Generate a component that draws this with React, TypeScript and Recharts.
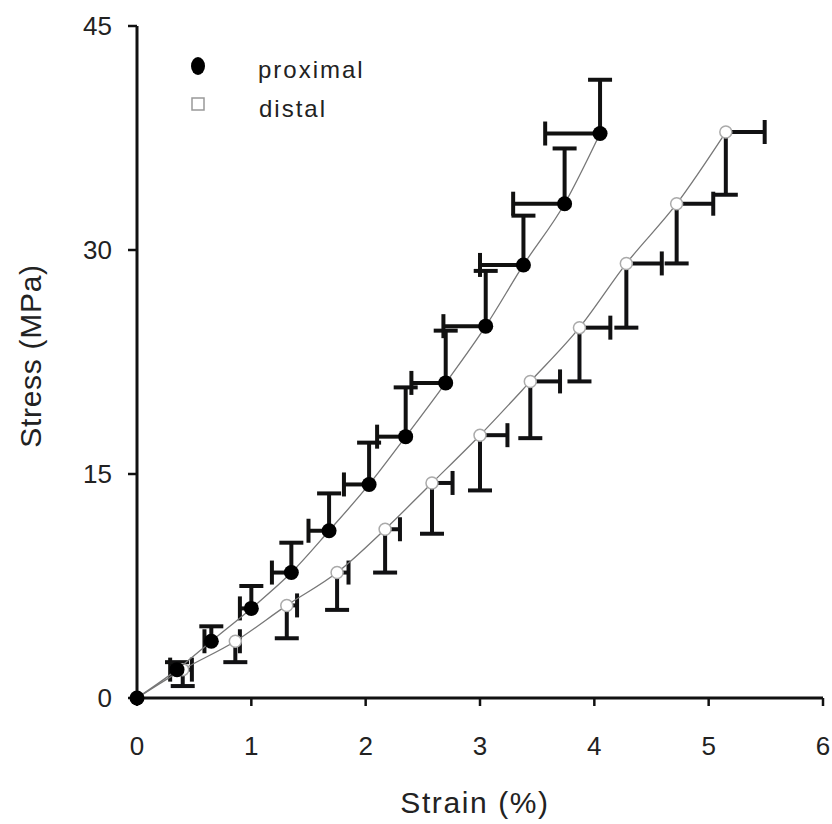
import { ErrorBar, Label, Scatter, ScatterChart, XAxis, YAxis } from "recharts";

const FONT = "'Liberation Sans', Arial, Helvetica, sans-serif";

// proximal: filled circles, SD bars to the left (strain) and upward (stress)
const proximalStrain = [0, 0.35, 0.65, 1.0, 1.35, 1.68, 2.03, 2.35, 2.7, 3.05, 3.38, 3.74, 4.05];
const proximalStress = [0, 1.9, 3.8, 6.0, 8.4, 11.2, 14.3, 17.5, 21.1, 24.9, 29.0, 33.1, 37.8];
const proximalStrainSd = [0, 0.06, 0.06, 0.1, 0.17, 0.18, 0.22, 0.25, 0.3, 0.37, 0.38, 0.45, 0.48];
const proximalStressSd = [0, 0.5, 1.0, 1.5, 2.0, 2.5, 2.8, 3.3, 3.5, 3.7, 3.3, 3.7, 3.6];

// distal: open circles, SD bars to the right (strain) and downward (stress)
const distalStrain = [0, 0.4, 0.86, 1.31, 1.75, 2.17, 2.58, 3.0, 3.44, 3.87, 4.28, 4.72, 5.15];
const distalStress = [0, 1.9, 3.8, 6.2, 8.4, 11.3, 14.4, 17.6, 21.2, 24.8, 29.1, 33.1, 37.9];
const distalStrainSd = [0, 0.08, 0.04, 0.09, 0.1, 0.13, 0.18, 0.24, 0.26, 0.27, 0.31, 0.32, 0.34];
const distalStressSd = [0, 1.1, 1.4, 2.2, 2.5, 2.9, 3.4, 3.7, 3.8, 3.6, 4.3, 4.0, 4.2];

const xTicks = [0, 1, 2, 3, 4, 5, 6];
const yTicks = [0, 15, 30, 45];

// one-sided bars: [minus, plus]; null when there is no bar at all
const side = (v: number, down: boolean) => (v > 0 ? (down ? [v, 0] : [0, v]) : null);

const proximalData = proximalStrain.map((s, i) => ({
  strain: s,
  stress: proximalStress[i],
  xErr: side(proximalStrainSd[i], true),
  yErr: side(proximalStressSd[i], false),
}));

const distalData = distalStrain.map((s, i) => ({
  strain: s,
  stress: distalStress[i],
  xErr: side(distalStrainSd[i], false),
  yErr: side(distalStressSd[i], true),
}));

// slightly different stroke values let the css below drop the cap that sits on the point
const STROKE_PX = "#111110";
const STROKE_PY = "#111111";
const STROKE_DX = "#111112";
const STROKE_DY = "#111113";

const hide = (stroke: string, n: number) =>
  `[stroke="${stroke}"] > line:nth-of-type(${n}), line[stroke="${stroke}"]:nth-of-type(${n})`;

const capCss = `
${hide(STROKE_PX, 1)},
${hide(STROKE_PY, 3)},
${hide(STROKE_DX, 3)},
${hide(STROKE_DY, 1)} { display: none; }
`;

const FilledDot = (p: any) => <circle cx={p.cx} cy={p.cy} r={7.5} fill="#000" />;
const OpenDot = (p: any) => (
  <circle cx={p.cx} cy={p.cy} r={6} fill="#fff" stroke="#aaa" strokeWidth={1.5} />
);

const axisStyle = { stroke: "#111", strokeWidth: 3 };
const tickStyle = { fill: "#222", fontSize: 26, fontFamily: FONT };

const barProps = { width: 12, strokeWidth: 4, isAnimationActive: false };

export default function App() {
  return (
    <div
      style={{
        position: "absolute",
        left: 0,
        top: 0,
        width: 832,
        height: 824,
        background: "#fff",
      }}
    >
      <style>{capCss}</style>
      <ScatterChart
        width={832}
        height={824}
        margin={{ top: 26, right: 9, left: 0, bottom: 0 }}
      >
        <XAxis
          type="number"
          dataKey="strain"
          domain={[0, 6]}
          ticks={xTicks}
          interval={0}
          height={126}
          tickSize={8}
          tickMargin={31}
          axisLine={axisStyle}
          tickLine={{ stroke: "#111", strokeWidth: 2.5 }}
          tick={tickStyle}
        >
          <Label
            content={(props: any) => {
              const vb = props.viewBox;
              return (
                <text
                  x={vb.x + vb.width / 2 - 5}
                  y={vb.y + 115}
                  textAnchor="middle"
                  fontSize={30}
                  fontFamily={FONT}
                  letterSpacing={1.6}
                  fill="#222"
                >
                  Strain (%)
                </text>
              );
            }}
          />
        </XAxis>
        <YAxis
          type="number"
          dataKey="stress"
          domain={[0, 45]}
          ticks={yTicks}
          interval={0}
          width={137}
          tickSize={9}
          tickMargin={16}
          axisLine={axisStyle}
          tickLine={{ stroke: "#111", strokeWidth: 2.5 }}
          tick={tickStyle}
        >
          <Label
            content={(props: any) => {
              const vb = props.viewBox;
              const cx = vb.x + 30;
              const cy = vb.y + vb.height / 2 - 6;
              return (
                <text
                  x={cx}
                  y={cy}
                  transform={`rotate(-90, ${cx}, ${cy})`}
                  textAnchor="middle"
                  dominantBaseline="central"
                  fontSize={30}
                  fontFamily={FONT}
                  letterSpacing={0.7}
                  fill="#222"
                >
                  Stress (MPa)
                </text>
              );
            }}
          />
        </YAxis>

        <Scatter
          name="distal"
          data={distalData}
          shape={OpenDot}
          line={{ stroke: "#777", strokeWidth: 1.3 }}
          lineJointType="monotoneX"
          isAnimationActive={false}
        >
          <ErrorBar dataKey="xErr" direction="x" stroke={STROKE_DX} {...barProps} />
          <ErrorBar dataKey="yErr" direction="y" stroke={STROKE_DY} {...barProps} />
        </Scatter>
        <Scatter
          name="proximal"
          data={proximalData}
          shape={FilledDot}
          line={{ stroke: "#777", strokeWidth: 1.3 }}
          lineJointType="monotoneX"
          isAnimationActive={false}
        >
          <ErrorBar dataKey="xErr" direction="x" stroke={STROKE_PX} {...barProps} />
          <ErrorBar dataKey="yErr" direction="y" stroke={STROKE_PY} {...barProps} />
        </Scatter>
      </ScatterChart>

      <svg
        width={832}
        height={824}
        style={{ position: "absolute", left: 0, top: 0, pointerEvents: "none" }}
      >
        <ellipse cx={198} cy={66} rx={7} ry={9} fill="#000" />
        <rect x={192} y={98} width={12} height={12} fill="#fff" stroke="#999" strokeWidth={1.5} />
        <text x={258} y={78} fontSize={24} fontFamily={FONT} letterSpacing={2} fill="#222">
          proximal
        </text>
        <text x={259} y={117} fontSize={24} fontFamily={FONT} letterSpacing={2} fill="#222">
          distal
        </text>
      </svg>
    </div>
  );
}
